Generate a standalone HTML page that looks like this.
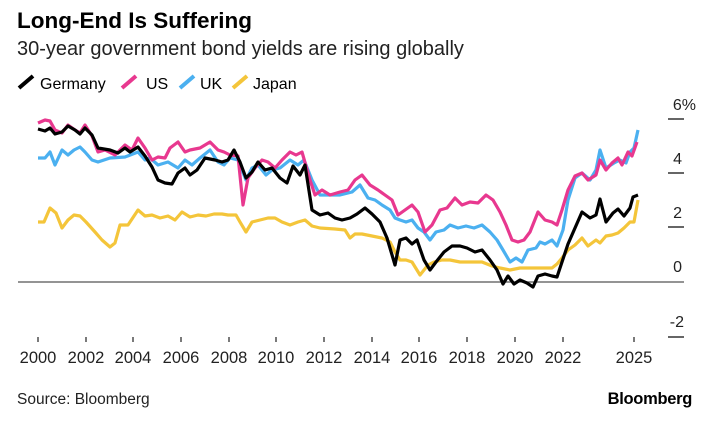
<!DOCTYPE html>
<html><head><meta charset="utf-8"><style>
body{margin:0;background:#fff;width:718px;height:429px;overflow:hidden;font-family:"Liberation Sans",sans-serif}
</style></head><body>
<svg width="718" height="429" xmlns="http://www.w3.org/2000/svg" font-family="Liberation Sans, sans-serif">
<text x="17" y="28" font-size="22.5" font-weight="bold" fill="#000">Long-End Is Suffering</text>
<text x="17" y="55" font-size="20" fill="#222">30-year government bond yields are rising globally</text>
<g font-size="16" fill="#000">
<line x1="19" y1="88" x2="33" y2="76" stroke="#000" stroke-width="4"/><text x="40" y="89">Germany</text>
<line x1="122" y1="88" x2="136" y2="76" stroke="#e8388f" stroke-width="4"/><text x="146" y="89">US</text>
<line x1="180" y1="88" x2="194" y2="76" stroke="#4bb0f0" stroke-width="4"/><text x="200" y="89">UK</text>
<line x1="233" y1="88" x2="247" y2="76" stroke="#f4c53a" stroke-width="4"/><text x="253" y="89">Japan</text>
</g>
<g stroke="#333" stroke-width="1.5">
<line x1="668" y1="119" x2="684" y2="119"/><line x1="668" y1="173" x2="684" y2="173"/><line x1="668" y1="227" x2="684" y2="227"/><line x1="668" y1="337" x2="684" y2="337"/>
</g>
<line x1="18" y1="282" x2="684" y2="282" stroke="#555" stroke-width="1.2"/>
<g font-size="16" fill="#222" text-anchor="end">
<text x="696" y="110">6%</text><text x="682" y="164">4</text><text x="682" y="218">2</text><text x="682" y="272">0</text><text x="684" y="327">-2</text>
</g>
<g stroke="#333" stroke-width="1.3">
<line x1="38" y1="337" x2="38" y2="342"/><line x1="86" y1="337" x2="86" y2="342"/><line x1="133" y1="337" x2="133" y2="342"/><line x1="181" y1="337" x2="181" y2="342"/><line x1="229" y1="337" x2="229" y2="342"/><line x1="276" y1="337" x2="276" y2="342"/><line x1="324" y1="337" x2="324" y2="342"/><line x1="372" y1="337" x2="372" y2="342"/><line x1="419" y1="337" x2="419" y2="342"/><line x1="467" y1="337" x2="467" y2="342"/><line x1="515" y1="337" x2="515" y2="342"/><line x1="563" y1="337" x2="563" y2="342"/><line x1="634" y1="337" x2="634" y2="342"/>
</g>
<g font-size="16.5" fill="#222" text-anchor="middle">
<text x="38" y="363">2000</text><text x="86" y="363">2002</text><text x="133" y="363">2004</text><text x="181" y="363">2006</text><text x="229" y="363">2008</text><text x="276" y="363">2010</text><text x="324" y="363">2012</text><text x="372" y="363">2014</text><text x="419" y="363">2016</text><text x="467" y="363">2018</text><text x="515" y="363">2020</text><text x="563" y="363">2022</text><text x="634" y="363">2025</text>
</g>
<g fill="none" stroke-width="3.2" stroke-linejoin="round">
<polyline stroke="#f4c53a" points="38,222 44,222 50,208 56,213 62,228 68,220 74,215 80,216 86,222 95,232 102,240 110,247 115,243 120,225 128,225 138,210 145,216 152,215 160,218 168,216 175,220 182,212 190,217 198,215 206,216 214,214 222,214 228,215 236,215 240,222 246,232 252,222 260,220 268,218 275,218 282,222 290,225 298,222 305,220 312,226 320,228 335,229 345,230 350,238 355,234 362,234 372,236 382,238 390,242 395,252 400,260 406,260 412,262 420,275 428,265 434,262 442,260 450,260 460,262 468,262 475,262 482,262 492,266 500,268 510,270 520,268 530,268 545,268 552,268 557,264 562,258 568,250 575,245 582,238 588,246 596,240 600,243 606,236 612,235 618,233 624,228 630,222 634,222 638,200"/>
<polyline stroke="#4bb0f0" points="38,158 45,158 50,152 55,165 62,150 68,155 74,150 80,147 85,152 92,160 98,162 110,158 125,157 138,152 145,160 150,158 158,165 168,162 178,168 185,160 192,165 200,158 210,150 218,162 224,165 230,158 238,160 246,180 252,168 258,165 266,175 272,170 280,168 290,160 298,165 304,160 312,180 320,195 328,195 340,195 352,192 360,185 368,198 375,200 382,205 390,210 395,218 400,220 406,222 412,220 418,228 424,232 430,240 436,232 444,230 450,225 458,228 466,226 474,228 482,225 490,232 497,240 503,250 510,262 516,258 522,262 528,250 536,248 540,242 545,244 552,240 557,246 563,230 568,200 575,178 582,173 590,180 596,170 600,150 606,168 614,163 620,160 626,163 630,152 634,148 638,130"/>
<polyline stroke="#e8388f" points="38,123 45,120 50,121 55,130 62,133 68,125 75,130 80,133 85,125 92,136 98,152 105,150 115,155 125,145 132,150 138,138 145,148 152,160 158,157 165,158 170,148 178,142 185,152 190,150 200,148 210,142 218,150 224,152 230,155 238,156 243,205 248,178 255,168 262,160 268,162 275,168 282,160 290,152 296,155 302,152 310,180 315,195 322,190 330,195 340,192 348,190 355,180 362,175 370,185 378,190 385,195 392,200 398,215 405,210 412,205 418,212 425,232 432,225 440,210 447,208 455,198 462,205 470,202 478,203 486,195 493,200 500,212 506,225 512,240 518,242 524,240 530,232 538,212 545,220 552,222 557,225 562,210 568,190 575,176 582,173 588,180 596,175 600,160 606,170 612,163 618,158 622,165 628,152 632,156 637,142"/>
<polyline stroke="#000" points="38,129 45,131 50,128 55,134 62,132 68,126 75,130 80,134 85,128 92,135 98,148 110,150 118,153 125,148 130,152 138,147 145,156 152,167 158,180 165,183 172,184 178,173 185,168 190,175 197,170 205,158 215,160 222,162 228,160 234,150 240,162 246,178 252,172 258,162 265,170 272,168 280,178 287,183 293,166 300,175 305,165 312,210 320,215 328,213 335,218 342,220 350,218 357,214 365,208 372,214 380,222 387,238 395,265 400,240 406,238 412,244 417,240 424,260 430,270 436,262 444,252 452,246 460,246 467,248 475,252 482,250 490,260 497,270 503,284 508,276 514,284 520,280 527,283 533,287 538,276 545,274 552,276 557,277 562,262 568,244 575,228 582,212 590,218 596,215 600,199 606,222 613,213 618,209 624,216 630,208 633,197 638,195"/>
</g>
<text x="17" y="404" font-size="15.5" fill="#222">Source: Bloomberg</text>
<text x="692" y="404" font-size="16.5" font-weight="bold" fill="#000" text-anchor="end" letter-spacing="-0.3">Bloomberg</text>
</svg>
</body></html>
